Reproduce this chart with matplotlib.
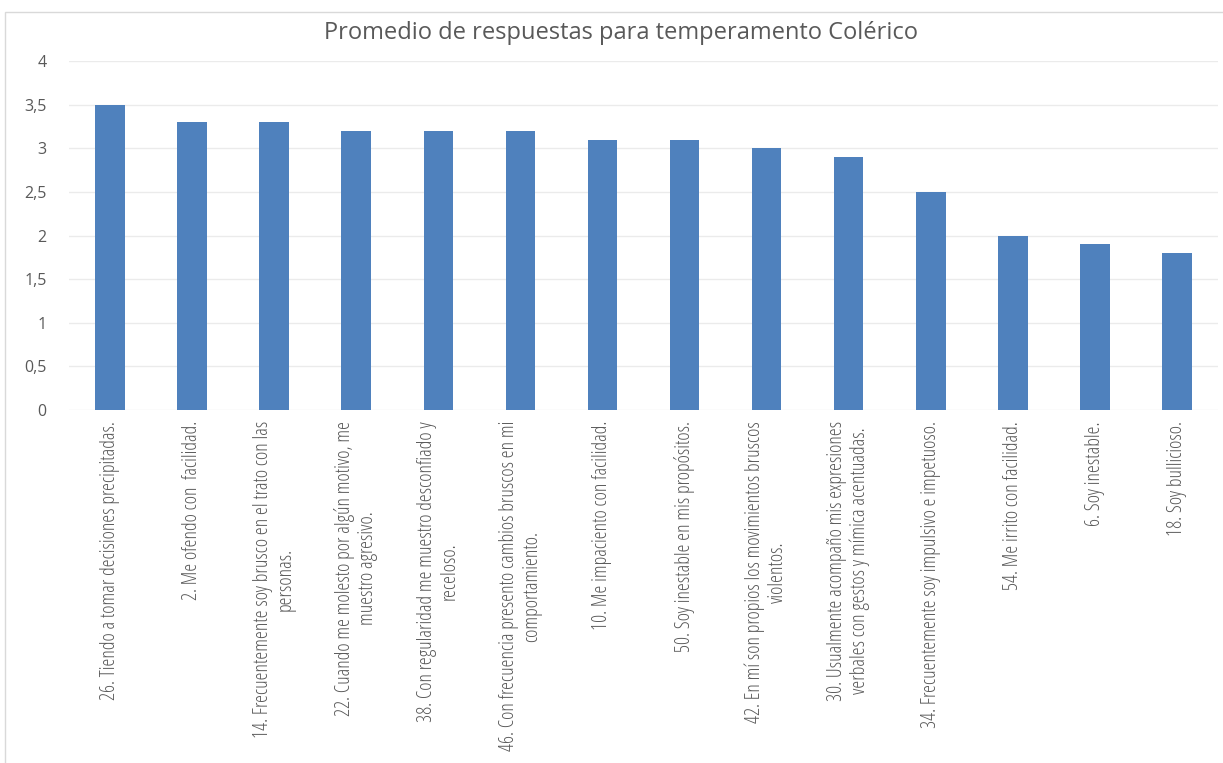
import matplotlib
matplotlib.use("Agg")
import matplotlib.pyplot as plt
from matplotlib.patches import Rectangle
from matplotlib.ticker import FuncFormatter
from matplotlib.font_manager import FontProperties

title = "Promedio de respuestas para temperamento Colérico"
categories = [
    "26. Tiendo a tomar decisiones precipitadas.",
    "2. Me ofendo con  facilidad.",
    "14. Frecuentemente soy brusco en el trato con las\npersonas.",
    "22. Cuando me molesto por algún motivo, me\nmuestro agresivo.",
    "38. Con regularidad me muestro desconfiado y\nreceloso.",
    "46. Con frecuencia presento cambios bruscos en mi\ncomportamiento.",
    "10. Me impaciento con facilidad.",
    "50. Soy inestable en mis propósitos.",
    "42. En mí son propios los movimientos bruscos\nviolentos.",
    "30. Usualmente acompaño mis expresiones\nverbales con gestos y mímica acentuadas.",
    "34. Frecuentemente soy impulsivo e impetuoso.",
    "54. Me irrito con facilidad.",
    "6. Soy inestable.",
    "18. Soy bullicioso.",
]
values = [3.5, 3.3, 3.3, 3.2, 3.2, 3.2, 3.1, 3.1, 3.0, 2.9, 2.5, 2.0, 1.9, 1.8]
yticks = [0, 0.5, 1, 1.5, 2, 2.5, 3, 3.5, 4]

W, H = 1223, 763
fig = plt.figure(figsize=(W / 100, H / 100), dpi=100)
fig.patch.set_facecolor("white")

# chart-area border
fig.add_artist(Rectangle((5 / W, -0.01), 1.02, 1 - 12 / H + 0.01, transform=fig.transFigure,
                         fill=False, edgecolor="#D9D9D9", linewidth=1.0))

left, right, top, bottom = 69, 1218, 61, 410
ax = fig.add_axes([left / W, 1 - bottom / H, (right - left) / W, (bottom - top) / H])

x = list(range(len(categories)))
ax.bar(x, values, width=0.36, color="#4F81BD", zorder=3)
ax.set_xlim(-0.5, len(categories) - 0.5)
ax.set_ylim(0, 4)
ax.set_yticks(yticks)
ax.yaxis.set_major_formatter(FuncFormatter(lambda v, p: (f"{v:g}").replace(".", ",")))
ax.grid(axis="y", color="#EBEBEB", linewidth=1.0, zorder=0)
for s in ax.spines.values():
    s.set_visible(False)
ax.tick_params(axis="both", length=0)
ax.tick_params(axis="y", pad=16, labelcolor="#595959")
tick_fp = FontProperties(family="Open Sans", weight="normal", size=11.5)
for t in ax.get_yticklabels():
    t.set_fontproperties(tick_fp)

label_fp = FontProperties(family="Open Sans", stretch="condensed", weight=300, size=14.4)
ax.set_xticks(x)
ax.set_xticklabels(categories, rotation=90, ha="center", va="top",
                   multialignment="center", color="#595959", linespacing=1.2,
                   fontproperties=label_fp)
ax.tick_params(axis="x", pad=8)

title_fp = FontProperties(family="Open Sans", weight="normal", size=17)
fig.text(621 / W, 1 - 33 / H, title, ha="center", va="center",
         color="#595959", fontproperties=title_fp)

fig.savefig("out.png", dpi=100)
